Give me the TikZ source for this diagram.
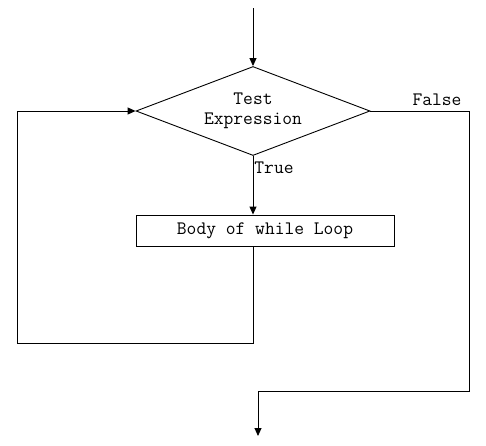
\documentclass[tikz,border=0pt]{standalone}
\usetikzlibrary{shapes.geometric,arrows.meta}

\begin{document}
\begin{tikzpicture}[x=1pt,y=-1pt,
  flow/.style={line width=0.9pt,-{Triangle[length=8pt,width=7pt]}},
  txt/.style={font=\ttfamily\fontsize{19}{20}\selectfont}]
  \useasboundingbox (0,0) rectangle (486,445);

  % Decision and body
  \node[draw,line width=0.9pt,diamond,aspect=2.63,minimum width=234pt,minimum height=89pt,
        inner sep=0pt,align=center,txt] (cond) at (253,111) {Test\\Expression};
  \node[draw,line width=0.9pt,minimum width=258pt,minimum height=31pt,inner sep=0pt,txt]
        (body) at (265,230.5) {Body of while Loop};

  % Corner points
  \coordinate (start) at (253,8);
  \coordinate (backbot) at (17,343);
  \coordinate (falsebot) at (469,391);
  \coordinate (exitturn) at (258,391);
  \coordinate (exit) at (258,436);

  % Connectors
  \draw[flow] (start) -- (cond.north);
  \draw[flow] (cond.south) -- (cond.south |- body.north);
  \draw[flow] (cond.south |- body.south) -- (cond.south |- backbot) -- (backbot) -- (backbot |- cond.west) -- (cond.west);
  \draw[flow] (cond.east) -- (cond.east -| falsebot) -- (falsebot) -- (exitturn) -- (exit);

  % Labels
  \node[txt] (truelbl) at (274,168) {True};
  \node[txt] (falselbl) at (437,100) {False};
\end{tikzpicture}
\end{document}
